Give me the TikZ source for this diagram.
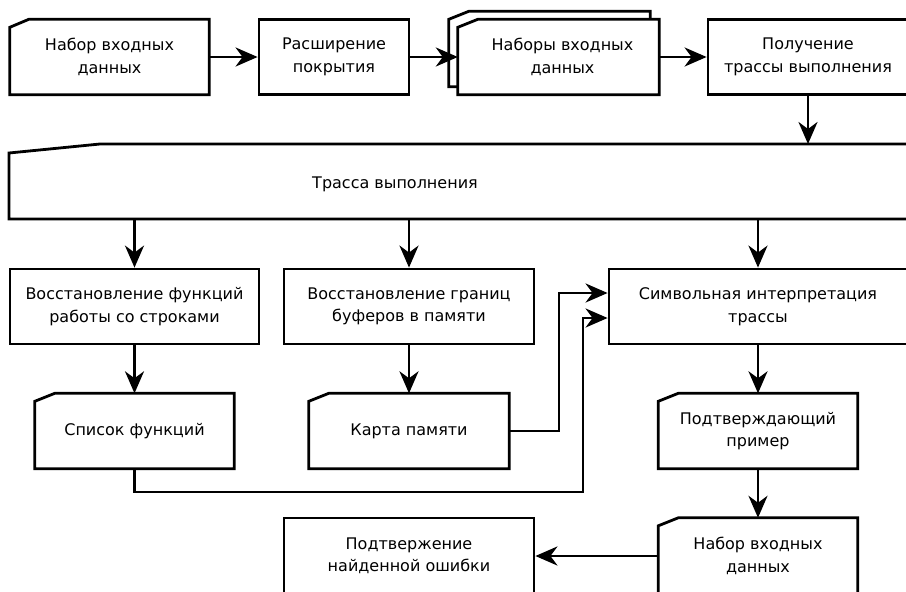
\documentclass[tikz,border=0pt]{standalone}
\usepackage{fontspec}
\setmainfont{DejaVu Sans}
\usetikzlibrary{arrows.meta}
\tikzset{
  lbl/.style={inner sep=0pt, align=center, font=\fontsize{16}{22.5}\selectfont},
  plainbox/.style={lbl, draw, line width=2.8pt, minimum height=75pt},
  cardbox/.style={lbl, minimum height=75pt},
  outline/.style={line width=2.8pt, line join=miter},
  arr/.style={line width=2.8pt, -{Stealth[length=22pt,width=19pt,inset=7pt]}},
}
\newcommand{\cardoutline}[3]{%
  \draw[outline,fill=white] ([yshift=-#3]#1.north west) -- ([xshift=#2]#1.north west) -- (#1.north east) -- (#1.south east) -- (#1.south west) -- cycle;}
\begin{document}
\begin{tikzpicture}[x=1pt,y=-1pt]
\useasboundingbox (0,0) rectangle (906,592);
\clip (0,0) rectangle (906,592);
\fill[white] (0,0) rectangle (906,592);

% row 1
\node[cardbox, minimum width=199pt] (n1) at (109.5,57) {};
\cardoutline{n1}{19pt}{8pt}
\node[lbl] at (n1) {Набор входных\\данных};
\node[plainbox, minimum width=150pt] (n2) at (334,57) {Расширение\\покрытия};
\node[cardbox, minimum width=201pt] (n3back) at (549.5,49) {};
\cardoutline{n3back}{20pt}{8pt}
\node[cardbox, minimum width=201pt] (n3) at (558.5,57) {};
\cardoutline{n3}{20pt}{8pt}
\node[lbl] at ([xshift=4pt]n3.center) {Наборы входных\\данных};
\node[plainbox, minimum width=200pt] (n4) at (808,57) {Получение\\трассы выполнения};

% trace
\draw[outline] (930,219) -- (9,219) -- (9,153) -- (100,144) -- (930,144);
\node[lbl] (trace) at (395,184) {Трасса выполнения};
\coordinate (tin) at (808,144);
\coordinate (to1) at (134.5,219);
\coordinate (to2) at (409,219);
\coordinate (to3) at (758,219);

% row 3
\node[plainbox, minimum width=249pt] (f1) at (134.5,306.5) {Восстановление функций\\работы со строками};
\node[plainbox, minimum width=250pt] (f2) at (409,306.5) {Восстановление границ\\буферов в памяти};
\node[plainbox, minimum width=298pt] (f3) at (758,306.5) {Символьная интерпретация\\трассы};

% row 4
\node[cardbox, minimum width=199pt] (l1) at (134.5,431) {};
\cardoutline{l1}{20pt}{8pt}
\node[lbl] at (l1) {Список функций};
\node[cardbox, minimum width=200pt] (l2) at (409,431) {};
\cardoutline{l2}{20pt}{8pt}
\node[lbl] at (l2) {Карта памяти};
\node[cardbox, minimum width=199pt] (p1) at (758,431) {};
\cardoutline{p1}{20pt}{8pt}
\node[lbl] at (p1) {Подтверждающий\\пример};

% row 5
\node[plainbox, minimum width=250pt, minimum height=76pt] (b1) at (409,556) {Подтвержение\\найденной ошибки};
\node[cardbox, minimum width=199pt, minimum height=76pt] (b2) at (758,556) {};
\cardoutline{b2}{20pt}{8pt}
\node[lbl] at (b2) {Набор входных\\данных};

% connectors
\draw[arr] (n1.east) -- (n2.west);
\draw[arr] (n2.east) -- (n3.west);
\draw[arr] (n3.east) -- (n4.west);
\draw[arr] (n4.south) -- (tin);
\draw[arr] (to1) -- (f1.north);
\draw[arr] (to2) -- (f2.north);
\draw[arr] (to3) -- (f3.north);
\draw[arr] (f1.south) -- (l1.north);
\draw[arr] (f2.south) -- (l2.north);
\draw[arr] (f3.south) -- (p1.north);
\draw[arr] (p1.south) -- (b2.north);
\draw[arr] (b2.west) -- (b1.east);
\coordinate (j2) at (559,431);
\coordinate (j1) at (583,492);
\draw[arr] (l2.east) -- (j2) |- ([yshift=13.5pt]f3.west);
\draw[arr] (l1.south) |- (j1) |- ([yshift=-11.5pt]f3.west);
\end{tikzpicture}
\end{document}
